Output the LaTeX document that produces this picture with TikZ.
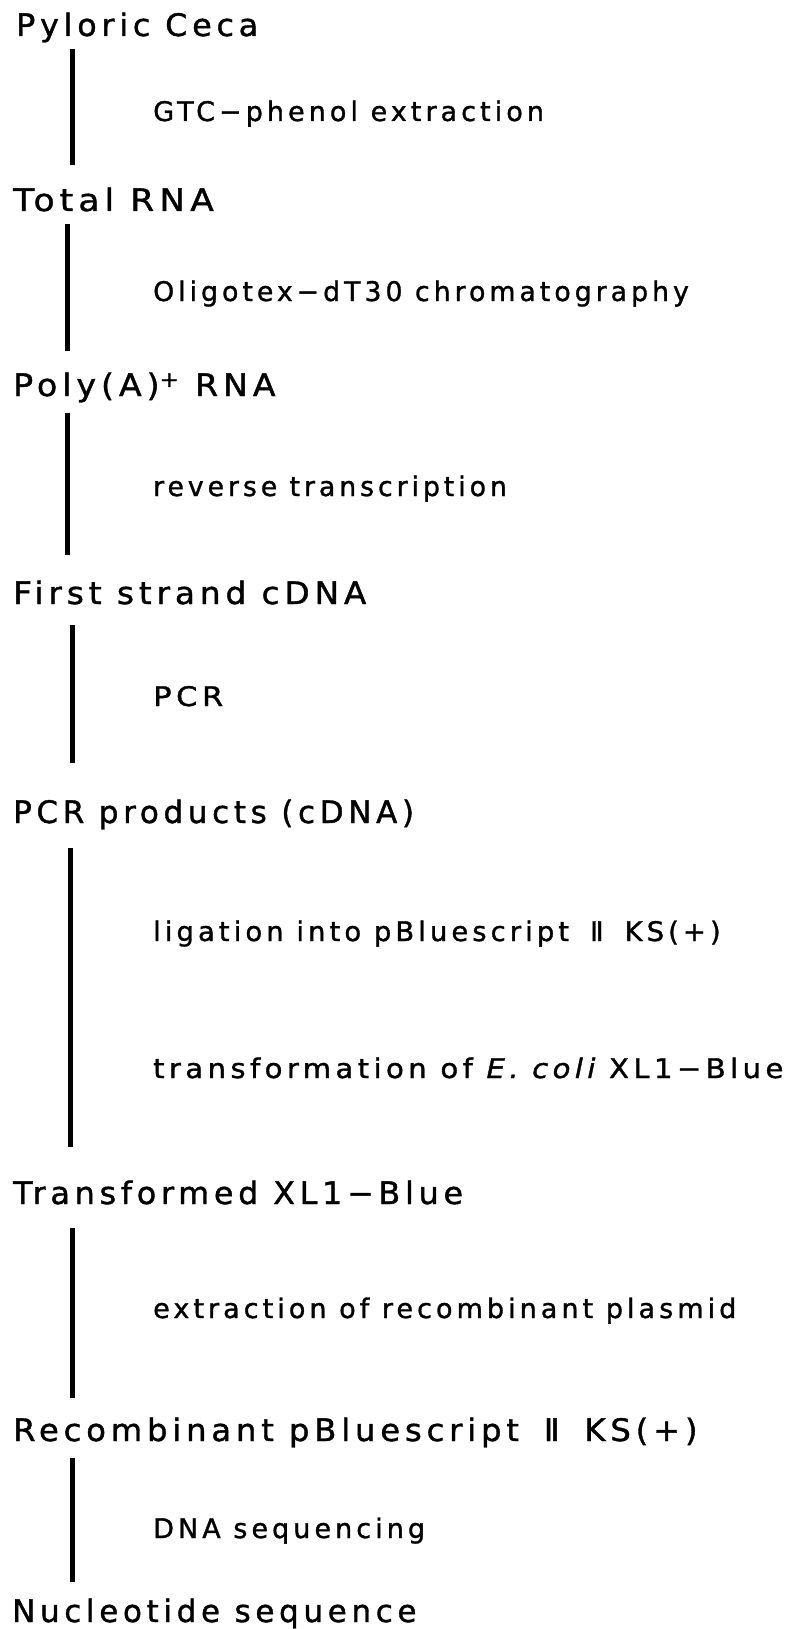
\documentclass[tikz,border=0pt]{standalone}
\usepackage{fontspec}
\usepackage{graphicx}
\newfontfamily\bigf[LetterSpace=15,FakeBold=1.2]{DejaVu Sans}
\newfontfamily\smallf[LetterSpace=15,FakeBold=1.2]{DejaVu Sans}
\newcommand\romtwo[1]{I\kern#1 I}
\newcommand\sx[2]{\scalebox{#1}[1]{#2}}
\tikzset{
  stage/.style={anchor=base west, inner sep=0pt, font=\bigf\fontsize{31}{36}\selectfont},
  method/.style={anchor=base west, inner sep=0pt, font=\smallf\fontsize{27}{32}\selectfont},
  link/.style={line width=5pt}
}
\begin{document}
\begin{tikzpicture}[x=1pt,y=-1pt]
\useasboundingbox[fill=white] (0,0) rectangle (792,1629);
% stages
\node[stage] (s1) at (16,36) {\sx{1.025}{Pyloric Ceca}};
\node[stage] (s2) at (13,211) {\sx{1.11}{Total RNA}};
\node[stage] (s3) at (13,396) {\sx{1.07}{Poly(A)\textsuperscript{+} RNA}};
\node[stage] (s4) at (13,604) {\sx{1.055}{First strand cDNA}};
\node[stage] (s5) at (13,823) {PCR products (cDNA)};
\node[stage] (s6) at (13,1204) {\sx{1.024}{Transformed XL1−Blue}};
\node[stage] (s7) at (13,1441) {\sx{1.04}{Recombinant pBluescript\hspace{0.3em} \romtwo{-3pt}\hspace{0.3em} KS(+)}};
\node[stage] (s8) at (12,1622) {Nucleotide sequence};
% methods
\node[method] (m1) at (153,121) {GTC−phenol extraction};
\node[method] (m2) at (153,301) {\sx{0.99}{Oligotex−dT30 chromatography}};
\node[method] (m3) at (153,496) {\sx{0.986}{reverse transcription}};
\node[method] (m4) at (153,706) {\sx{1.13}{PCR}};
\node[method] (m5) at (153,941) {\sx{1.013}{ligation into pBluescript\hspace{0.3em} \romtwo{-2.5pt}\hspace{0.3em} KS(+)}};
\node[method] (m6) at (153,1078) {\sx{1.08}{transformation of {\itshape E. coli} XL1−Blue}};
\node[method] (m7) at (153,1318) {extraction of recombinant plasmid};
\node[method] (m8) at (153,1538) {DNA sequencing};
% connector ends
\coordinate (a1) at (72,49);   \coordinate (b1) at (72,165);
\coordinate (a2) at (67,224);  \coordinate (b2) at (67,351);
\coordinate (a3) at (67,413);  \coordinate (b3) at (67,555);
\coordinate (a4) at (72,625);  \coordinate (b4) at (72,763);
\coordinate (a5) at (70,848);  \coordinate (b5) at (70,1147);
\coordinate (a6) at (72,1228); \coordinate (b6) at (72,1398);
\coordinate (a7) at (72,1458); \coordinate (b7) at (72,1582);
\foreach \i in {1,...,7} { \draw[link] (a\i) -- (b\i); }
\end{tikzpicture}
\end{document}
